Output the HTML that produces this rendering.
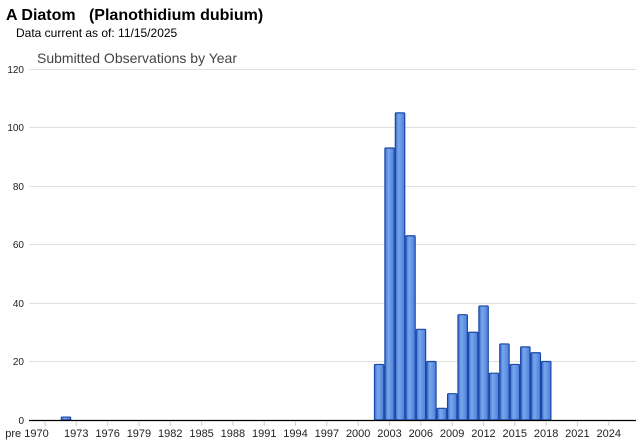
<!DOCTYPE html>
<html><head><style>
body{margin:0;width:640px;height:442px;background:#fff;overflow:hidden;font-family:"Liberation Sans",Arial,sans-serif}
</style></head><body>
<svg width="640" height="442" xmlns="http://www.w3.org/2000/svg" font-family="Liberation Sans, Arial, sans-serif">
<defs><linearGradient id="g" x1="0" x2="1"><stop offset="0" stop-color="#3a6fd0"/><stop offset="0.35" stop-color="#7aa6ec"/><stop offset="1" stop-color="#4a7fd8"/></linearGradient></defs>
<text x="6" y="20" font-size="16" font-weight="bold" fill="#000" xml:space="preserve">A Diatom   (Planothidium dubium)</text>
<text x="16" y="37" font-size="12" fill="#000">Data current as of:  11/15/2025</text>
<text x="37" y="63" font-size="14" fill="#444">Submitted Observations by Year</text>
<g stroke="#e0e0e0" stroke-width="1">
<line x1="29" x2="636" y1="69.5" y2="69.5"/><line x1="29" x2="636" y1="127.5" y2="127.5"/><line x1="29" x2="636" y1="186.5" y2="186.5"/><line x1="29" x2="636" y1="244.5" y2="244.5"/><line x1="29" x2="636" y1="303.5" y2="303.5"/><line x1="29" x2="636" y1="361.5" y2="361.5"/>
</g>
<g font-size="10" fill="#222" text-anchor="end">
<text x="24" y="73">120</text><text x="24" y="131">100</text><text x="24" y="190">80</text><text x="24" y="248">60</text><text x="24" y="307">40</text><text x="24" y="365">20</text><text x="24" y="424">0</text>
</g>
<g id="bars" fill="url(#g)" stroke="#1a48a8" stroke-width="1.2"></g>
<line x1="29" x2="636" y1="420.5" y2="420.5" stroke="#000" stroke-width="1.2"/>
<g id="lbl" font-size="11" fill="#222" text-anchor="middle"></g>
</svg>
<script>
var ns="http://www.w3.org/2000/svg";
function cx(y){return 389.5+(y-2003)*10.44;}
var d={1972:1,2002:19,2003:93,2004:105,2005:63,2006:31,2007:20,2008:4,2009:9,2010:36,2011:30,2012:39,2013:16,2014:26,2015:19,2016:25,2017:23,2018:20};
var b=document.getElementById('bars');
for(var k in d){var v=d[k],h=v*2.925,r=document.createElementNS(ns,'rect');
r.setAttribute('x',cx(+k)-4.6);r.setAttribute('y',420-h);r.setAttribute('width',9.4);r.setAttribute('height',h);r.setAttribute('rx',1);b.appendChild(r);}
var l=document.getElementById('lbl');
for(var y=1970;y<=2024;y+=3){var t=document.createElementNS(ns,'text');t.setAttribute('x',y==1970?27:cx(y));t.setAttribute('y',437);t.textContent=y==1970?'pre 1970':y;l.appendChild(t);
var tk=document.createElementNS(ns,'line');tk.setAttribute('x1',cx(y));tk.setAttribute('x2',cx(y));tk.setAttribute('y1',421);tk.setAttribute('y2',426);tk.setAttribute('stroke','#ccc');l.appendChild(tk);}
</script>
</body></html>
